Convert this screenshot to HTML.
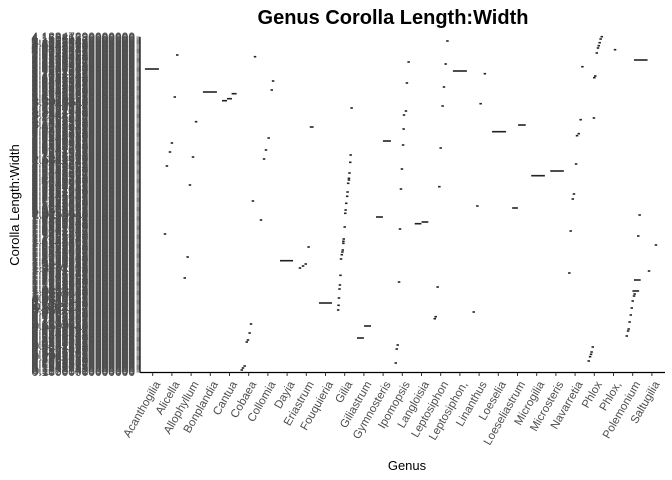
<!DOCTYPE html>
<html><head><meta charset="utf-8"><style>
body{margin:0;background:#fff;}
svg{display:block;font-family:"Liberation Sans",sans-serif;}
</style></head><body>
<svg id="chart" width="672" height="480" viewBox="0 0 672 480">
<rect width="672" height="480" fill="#fff"/>
<text x="393" y="24" text-anchor="middle" font-size="20" font-weight="bold" fill="#000">Genus Corolla Length:Width</text>
<text x="407" y="470" text-anchor="middle" font-size="13" fill="#000">Genus</text>
<text transform="translate(19,205) rotate(-90)" text-anchor="middle" font-size="13" fill="#000">Corolla Length:Width</text>
<g id="yaxis"></g>
<g id="xaxis"></g>
<g id="marks"></g>
<line x1="140" y1="37" x2="140" y2="372.5" stroke="#000" stroke-width="1.2"/>
<line x1="140" y1="372.5" x2="665" y2="372.5" stroke="#000" stroke-width="1.2"/>
</svg>
<script>
const genera = ["Acanthogilia","Alicella","Allophyllum","Bonplandia","Cantua","Cobaea","Collomia","Dayia","Eriastrum","Fouquieria","Gilia","Giliastrum","Gymnosteris","Ipomopsis","Langloisia","Leptosiphon","Leptosiphon,","Linanthus","Loeselia","Loeseliastrum","Microgilia","Microsteris","Navarretia","Phlox","Phlox,","Polemonium","Saltugilia"];
const yLevelCount = 300;
// marks: genus position, y level, spread width (genus units)
const markX = [-0.04,1.28,5.33,1.15,2.98,4.24,3.74,4.0,6.27,6.2,2.26,10.36,8.28,6.04,12.2,1.0,0.9,2.1,0.74,5.9,5.8,1.94,5.22,5.64,0.64,11.81,8.12,1.82,6.97,7.97,7.83,7.67,1.67,9.0,11.19,10.82,5.12,5.05,4.96,4.9,4.79,4.7,4.64,
10.31,10.29,10.25,10.22,10.22,10.18,10.15,10.13,10.08,10.05,10.03,10.0,9.95,9.93,9.93,9.9,9.88,9.85,9.81,9.78,9.75,9.73,9.7,9.68,9.66,
13.33,13.24,13.19,13.09,13.07,13.04,12.98,12.93,12.88,12.83,12.76,12.71,12.66,
15.35,15.26,16.0,17.3,15.17,17.08,15.1,18.04,19.23,15.0,20.07,21.06,14.93,16.91,18.87,13.82,14.18,14.84,14.74,14.69,16.72,
22.38,23.05,23.0,22.29,22.98,22.19,22.1,22.05,21.94,21.88,21.77,21.7,24.08,25.42,
23.39,23.33,23.28,23.23,23.19,23.13,25.36,25.29,26.21,25.85,25.24,
25.16,25.1,25.07,25.0,24.95,24.9,24.84,24.79,24.76,24.69,
22.92,22.86,22.83,22.78,22.71];
const markY = [303,317,315.3,275,280,278.3,271.3,273.3,291,282,250.3,264,245,234,231,229,220,215,206,222,213,187,171,152,138,155,125,115,111.3,108,106,104,94,69,46,34,48,39,32,30,6,4,2,
217,209.7,199,193.7,192,188.7,180,175.7,168.7,162,158.7,145,133,130.7,128.7,122,120,117.3,113,96.7,87,83,74,66.7,62,
310,289,261,257,243,227,203,183,143,90,27,23,9,
331,308,301,298.3,285,268.3,266,240.3,247,224,196.3,201,185.3,166,164,148.3,150,85,55.3,53.3,60,
305.3,296,294.3,252.3,254,238.3,236.3,208,178,173,141,99,322.3,312,
335.3,333,329.3,326.3,324,319,157,136,127,101,92,
81,78,76,71,64,57,50,43,41,36,
25,20,17.7,15.3,11];
const markW = {0:0.73,4:0.73,5:0.26,6:0.26,7:0.26,12:0.2,14:0.42,25:0.36,28:0.68,33:0.68,34:0.36,35:0.36,
83:0.73,88:0.73,89:0.4,91:0.71,92:0.71,95:0.3,96:0.35,97:0.35,115:0.71,126:0.35,127:0.35};

const NS="http://www.w3.org/2000/svg";
const xs = u => 152.7 + 19.2*u;
const ys = l => 372 - l;
const gm = document.getElementById('marks');
const gx = document.getElementById('xaxis');
const gy = document.getElementById('yaxis');

genera.forEach((g,i)=>{
  const t=document.createElementNS(NS,'line');
  t.setAttribute('x1',xs(i));t.setAttribute('x2',xs(i));
  t.setAttribute('y1',372.5);t.setAttribute('y2',376);
  t.setAttribute('stroke','#333');
  
  
  gx.appendChild(t);
  const l=document.createElementNS(NS,'text');
  l.setAttribute('transform',`translate(${xs(i)+8},384) rotate(-60)`);
  l.setAttribute('text-anchor','end');
  l.setAttribute('font-size','11.5');
  l.setAttribute('fill','#4d4d4d');
  l.textContent=g;
  
  
  gx.appendChild(l);
});

for(let k=0;k<yLevelCount;k++){
  const yy = 372 - k*(335/(yLevelCount-1));
  const t=document.createElementNS(NS,'line');
  t.setAttribute('x1',136.5);t.setAttribute('x2',140);
  t.setAttribute('y1',yy);t.setAttribute('y2',yy);
  t.setAttribute('stroke','#333');t.setAttribute('stroke-width','0.6');
  
  
  gy.appendChild(t);
  const l=document.createElementNS(NS,'text');
  l.setAttribute('x',135);l.setAttribute('y',yy+4);
  l.setAttribute('text-anchor','end');
  l.setAttribute('font-size','12');
  l.setAttribute('fill','#4d4d4d');
  l.textContent=(0.1+k*0.0136571).toFixed(14);
  
  
  gy.appendChild(l);
}

markX.forEach((u,i)=>{
  const w = markW[i]!==undefined ? markW[i]*19.2 : 2.5;
  const r=document.createElementNS(NS,'rect');
  r.setAttribute('x',xs(u)-w/2);
  r.setAttribute('y',ys(markY[i])-0.8);
  r.setAttribute('width',w);
  r.setAttribute('height',1.6);
  r.setAttribute('fill','#222');
  
  
  gm.appendChild(r);
});
</script>
</body></html>
